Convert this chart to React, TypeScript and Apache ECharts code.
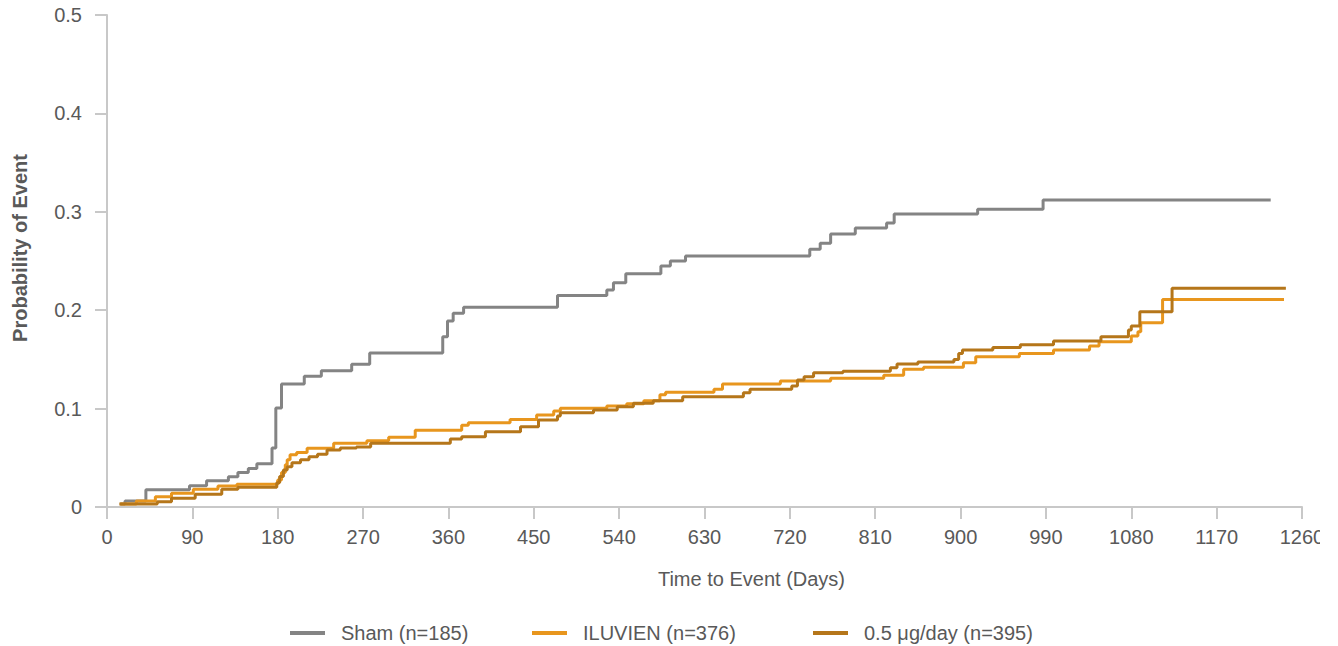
import React, { useEffect, useRef } from "react";
import * as echarts from "echarts";

const xTicks = [0, 90, 180, 270, 360, 450, 540, 630, 720, 810, 900, 990, 1080, 1170, 1260];

const seriesNames = ["Sham (n=185)", "ILUVIEN (n=376)", "0.5 μg/day (n=395)"];

const shamDays = [14, 19, 41, 87, 105, 128, 138, 149, 158, 174, 178, 184, 208, 226, 258, 277, 354, 359, 365, 376, 475, 527, 534, 547, 584, 594, 610, 741, 752, 763, 789, 822, 830, 918, 987, 1227];
const shamProb = [0.003, 0.006, 0.0175, 0.0217, 0.0267, 0.0308, 0.035, 0.039, 0.044, 0.060, 0.1006, 0.125, 0.133, 0.1385, 0.145, 0.1565, 0.173, 0.189, 0.197, 0.203, 0.215, 0.2205, 0.228, 0.237, 0.245, 0.250, 0.255, 0.262, 0.268, 0.2775, 0.2835, 0.2886, 0.2978, 0.3025, 0.312, 0.312];

const iluvienDays = [14, 31, 51, 68, 91, 117, 137, 180, 184, 188, 190, 193, 200, 211, 239, 274, 297, 325, 374, 381, 425, 453, 471, 478, 527, 548, 566, 583, 589, 640, 649, 710, 763, 819, 840, 861, 903, 916, 962, 998, 1036, 1046, 1080, 1087, 1090, 1113, 1241];
const iluvienProb = [0.003, 0.006, 0.0105, 0.014, 0.018, 0.0213, 0.023, 0.0274, 0.035, 0.043, 0.048, 0.053, 0.0555, 0.0596, 0.0647, 0.0674, 0.071, 0.078, 0.083, 0.0857, 0.089, 0.0935, 0.0976, 0.1003, 0.1026, 0.105, 0.108, 0.114, 0.1166, 0.1196, 0.125, 0.128, 0.1308, 0.134, 0.140, 0.142, 0.1467, 0.1528, 0.156, 0.1596, 0.1636, 0.168, 0.1738, 0.178, 0.1873, 0.211, 0.211];

const lowDoseDays = [13, 53, 68, 93, 121, 138, 179, 182, 186, 190, 195, 204, 213, 222, 232, 246, 263, 278, 362, 374, 399, 436, 455, 475, 478, 513, 538, 555, 576, 607, 671, 678, 722, 728, 735, 745, 776, 826, 833, 855, 893, 898, 902, 934, 963, 998, 1048, 1077, 1080, 1089, 1123, 1243];
const lowDoseProb = [0.003, 0.0054, 0.0088, 0.013, 0.018, 0.020, 0.0247, 0.031, 0.0376, 0.041, 0.045, 0.048, 0.051, 0.0535, 0.058, 0.060, 0.061, 0.0647, 0.069, 0.0715, 0.0765, 0.0816, 0.0884, 0.0925, 0.0958, 0.0986, 0.102, 0.1054, 0.108, 0.112, 0.116, 0.1196, 0.123, 0.129, 0.1324, 0.1365, 0.138, 0.1416, 0.1453, 0.1473, 0.150, 0.156, 0.1596, 0.162, 0.165, 0.1687, 0.173, 0.180, 0.184, 0.1985, 0.2222, 0.2222];

const colors = ["#848484", "#E8961E", "#B5761A"];

const pairs = (d: number[], p: number[]) => d.map((x, i) => [x, p[i]]);

export default function App() {
  const ref = useRef<HTMLDivElement>(null);
  useEffect(() => {
    document.body.style.margin = "0";
    if (!ref.current) return;
    const chart = echarts.init(ref.current, null, { renderer: "svg" });
    const textColor = "#595959";
    const axisColor = "#c8c8c8";
    const font = "Liberation Sans, Arial, sans-serif";
    const mk = (i: number, d: number[], p: number[]) => ({
      name: seriesNames[i],
      type: "line",
      step: "end",
      symbol: "none",
      data: pairs(d, p),
      lineStyle: { color: colors[i], width: 3 },
      itemStyle: { color: colors[i] },
      z: 2 + i,
    });
    const legendLefts = [285, 527, 808];
    const legends = seriesNames.map((n, i) => ({
      left: legendLefts[i],
      top: 618,
      itemWidth: 35,
      itemHeight: 4,
      icon: "rect",
      textStyle: { color: textColor, fontSize: 20, fontFamily: font, padding: [0, 0, 0, 11] },
      data: [n],
    }));
    chart.setOption({
      animation: false,
      textStyle: { fontFamily: font },
      grid: { left: 107, right: 18, top: 15, bottom: 139, containLabel: false, outerBoundsMode: "none" },
      legend: legends,
      xAxis: {
        type: "value",
        min: 0,
        max: 1260,
        interval: 90,
        name: "Time to Event (Days)",
        nameLocation: "middle",
        nameGap: 62,
        nameTextStyle: { color: textColor, fontSize: 20, fontFamily: font, verticalAlign: "top", padding: [0, 0, 0, 94] },
        axisLine: { show: true, lineStyle: { color: axisColor, width: 2 } },
        axisTick: { show: true, length: 12, lineStyle: { color: axisColor, width: 2 } },
        axisLabel: {
          color: textColor,
          fontSize: 20,
          margin: 20,
          fontFamily: font,
          showMaxLabel: true,
          formatter: (v: number) => (xTicks.includes(v) ? String(v) : ""),
        },
        splitLine: { show: false },
      },
      yAxis: {
        type: "value",
        min: 0,
        max: 0.5,
        interval: 0.1,
        name: "Probability of Event",
        nameLocation: "middle",
        nameGap: 77,
        nameTextStyle: { color: textColor, fontSize: 20, fontWeight: "bold", fontFamily: font, padding: [0, 0, 0, 26] },
        axisLine: { show: true, lineStyle: { color: axisColor, width: 2 } },
        axisTick: { show: true, length: 12, lineStyle: { color: axisColor, width: 2 } },
        axisLabel: { color: textColor, fontSize: 20, margin: 25, fontFamily: font },
        splitLine: { show: false },
      },
      series: [
        mk(0, shamDays, shamProb),
        mk(1, iluvienDays, iluvienProb),
        mk(2, lowDoseDays, lowDoseProb),
      ],
    });
    return () => chart.dispose();
  }, []);
  return <div ref={ref} style={{ width: 1320, height: 646, overflow: "hidden" }} />;
}
